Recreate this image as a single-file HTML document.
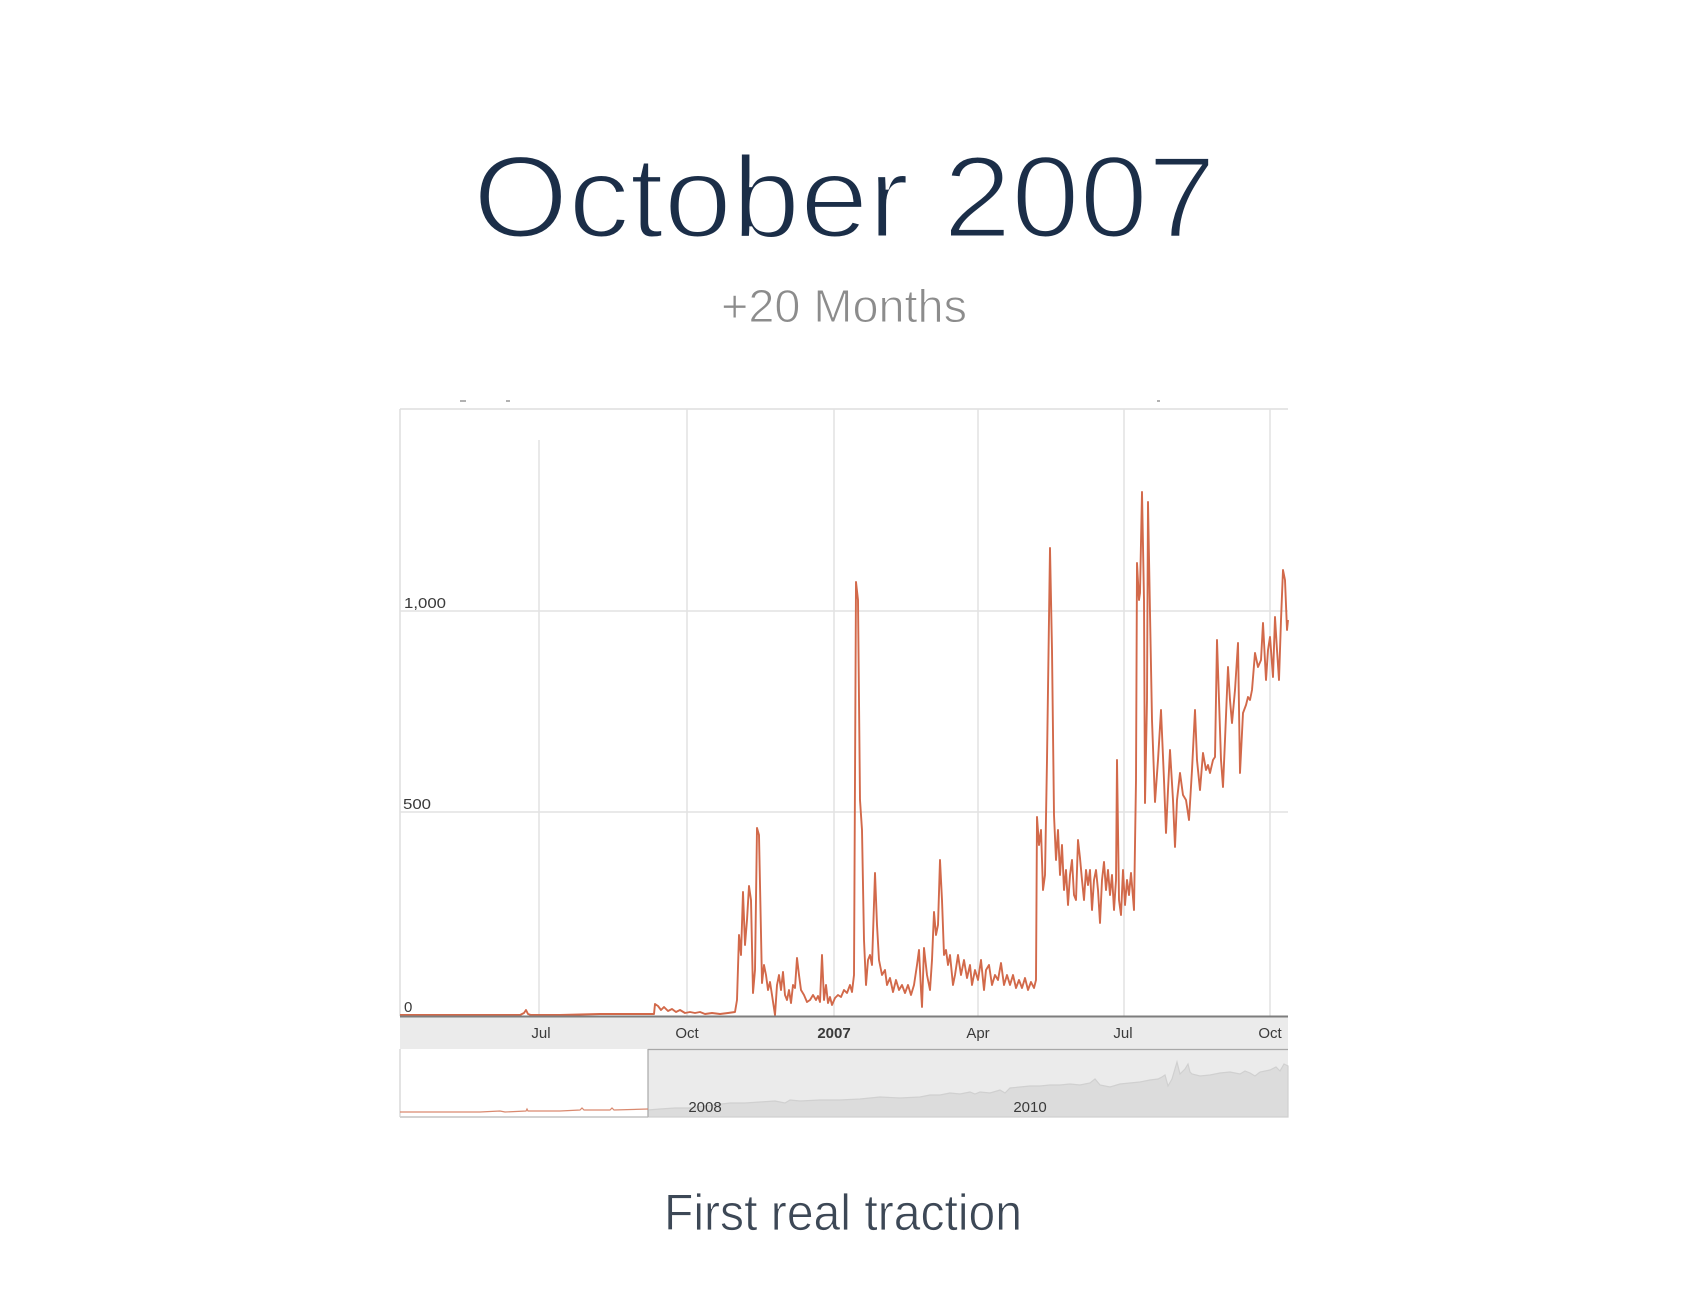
<!DOCTYPE html>
<html>
<head>
<meta charset="utf-8">
<style>
  html,body{margin:0;padding:0;background:#ffffff;}
  body{width:1684px;height:1290px;overflow:hidden;}
  svg{display:block;}
  .ax{font-family:"Liberation Sans",Arial,sans-serif;font-size:15px;fill:#3a3a3a;}
</style>
</head>
<body>
<svg width="1684" height="1290" viewBox="0 0 1684 1290" xmlns="http://www.w3.org/2000/svg">
  <rect x="0" y="0" width="1684" height="1290" fill="#ffffff"/>

  <!-- Title -->
  <text x="473" y="237" font-family="Liberation Sans, Arial, sans-serif" font-size="116" textLength="743" lengthAdjust="spacingAndGlyphs" fill="#1b2e48" stroke="#ffffff" stroke-width="3">October 2007</text>
  <!-- Subtitle -->
  <text x="721" y="322" font-family="Liberation Sans, Arial, sans-serif" font-size="46" textLength="246" lengthAdjust="spacingAndGlyphs" fill="#8c8c8c" stroke="#ffffff" stroke-width="1">+20 Months</text>

  <!-- tiny marks above chart -->
  <line x1="460" y1="401" x2="466" y2="401" stroke="#999" stroke-width="1.5"/>
  <line x1="506" y1="401" x2="510" y2="401" stroke="#999" stroke-width="1.5"/>
  <line x1="1157" y1="401" x2="1160" y2="401" stroke="#999" stroke-width="1.5"/>

  <!-- plot frame -->
  <line x1="400" y1="409" x2="1288" y2="409" stroke="#dedede" stroke-width="1.5"/>
  <line x1="400" y1="409" x2="400" y2="1016" stroke="#dedede" stroke-width="1.5"/>

  <!-- horizontal gridlines -->
  <line x1="400" y1="611" x2="1288" y2="611" stroke="#e2e2e2" stroke-width="1.5"/>
  <line x1="400" y1="812" x2="1288" y2="812" stroke="#e2e2e2" stroke-width="1.5"/>

  <!-- vertical gridlines -->
  <line x1="539" y1="440" x2="539" y2="1016" stroke="#e2e2e2" stroke-width="1.5"/>
  <line x1="687" y1="409" x2="687" y2="1016" stroke="#e2e2e2" stroke-width="1.5"/>
  <line x1="834" y1="409" x2="834" y2="1016" stroke="#e2e2e2" stroke-width="1.5"/>
  <line x1="978" y1="409" x2="978" y2="1016" stroke="#e2e2e2" stroke-width="1.5"/>
  <line x1="1124" y1="409" x2="1124" y2="1016" stroke="#e2e2e2" stroke-width="1.5"/>
  <line x1="1270" y1="409" x2="1270" y2="1016" stroke="#e2e2e2" stroke-width="1.5"/>

  <!-- y labels -->
  <text class="ax" x="404" y="608" textLength="42" lengthAdjust="spacingAndGlyphs">1,000</text>
  <text class="ax" x="403" y="809" textLength="28" lengthAdjust="spacingAndGlyphs">500</text>
  <text class="ax" x="404" y="1012">0</text>

  <!-- data line -->
  <polyline fill="none" stroke="#d2694a" stroke-width="1.9" stroke-linejoin="round" points="
400,1015 520,1015 524,1013 526,1010 528,1014 531,1015 560,1015 600,1014 654,1014 655,1004 658,1006 661,1010 664,1007 668,1011 672,1009 676,1012 680,1010 685,1013 690,1012 695,1013 700,1012 705,1014 712,1013 720,1014 728,1013 735,1012
737,1000 739,935 741,955 743,892 745,945 747,920 749,886 751,900 753,993 755,970 757,828 759,835 762,983 764,965 766,975 768,990 770,982 772,995 775,1015 777,985 779,975 781,990 783,972 785,995 787,1000 789,990 791,1003 793,985 795,988 797,958 799,975 801,990 804,995 807,1002 810,1000 813,995 816,1000 818,996 820,1002 822,955 824,1000 826,985 828,1003 830,997 832,1005 835,998 838,995 841,997 844,990 847,993 850,985 852,992 854,975 856,582 858,600 860,800 862,830 864,940 866,985 868,960 870,955 872,965 875,873 877,925 879,960 882,975 885,970 887,985 890,978 893,992 896,980 899,990 902,985 905,993 908,985 911,995 914,985 917,965 919,950 921,990 922,1007 924,948 927,975 930,990 932,960 934,912 936,935 938,925 940,860 942,900 944,955 946,950 948,965 950,955 953,985 955,975 958,955 961,975 964,960 967,978 970,965 972,985 975,970 978,980 981,960 984,990 986,970 989,965 992,985 995,975 998,980 1001,963 1004,985 1007,975 1010,985 1013,975 1016,988 1019,980 1022,988 1025,978 1028,990 1031,982 1034,988 1036,980
1037,817 1039,845 1041,830 1043,890 1045,875 1047,760 1050,548 1052,650 1054,815 1056,860 1058,830 1060,875 1062,845 1064,890 1066,870 1068,905 1070,875 1072,860 1074,895 1076,900 1078,840 1080,858 1082,880 1084,900 1086,870 1088,885 1090,870 1092,910 1094,880 1096,870 1098,890 1100,923 1102,880 1104,862 1106,890 1108,870 1110,895 1112,875 1114,910 1116,880 1117,760 1119,900 1121,915 1123,870 1125,905 1127,880 1129,895 1131,873 1134,910 1136,780 1137,563 1139,600 1140,593 1142,492 1144,600 1145,803 1147,700 1148,502 1150,613 1152,720 1155,802 1158,760 1161,710 1164,780 1166,833 1168,790 1170,750 1173,800 1175,847 1177,800 1180,773 1183,795 1186,800 1189,820 1192,770 1195,710 1197,760 1200,790 1203,753 1206,770 1208,765 1210,773 1213,760 1215,757 1217,640 1219,700 1221,760 1223,787 1225,740 1228,667 1230,700 1232,723 1235,690 1238,643 1240,773 1243,713 1246,705 1248,697 1250,700 1252,690 1255,653 1258,667 1261,660 1263,623 1266,680 1268,650 1270,637 1273,677 1275,617 1277,650 1279,680 1281,620 1283,570 1285,580 1287,630 1288,620"/>

  <!-- x axis band -->
  <rect x="400" y="1017" width="888" height="32" fill="#ebebeb"/>
  <line x1="400" y1="1016.5" x2="1288" y2="1016.5" stroke="#7d7d7d" stroke-width="2"/>
  <text class="ax" x="541" y="1038" text-anchor="middle">Jul</text>
  <text class="ax" x="687" y="1038" text-anchor="middle">Oct</text>
  <text class="ax" x="834" y="1038" text-anchor="middle" font-weight="bold" fill="#222">2007</text>
  <text class="ax" x="978" y="1038" text-anchor="middle">Apr</text>
  <text class="ax" x="1123" y="1038" text-anchor="middle">Jul</text>
  <text class="ax" x="1270" y="1038" text-anchor="middle">Oct</text>

  <!-- navigator -->
  <rect x="400" y="1049" width="248" height="68" fill="#ffffff"/>
  <rect x="648" y="1049" width="640" height="68" fill="#ebebeb"/>
  <polygon fill="#dcdcdc" stroke="#d0d0d0" stroke-width="1.2" points="648,1110 660,1109 675,1108 690,1108 705,1106 730,1103 745,1103 760,1102 775,1101 785,1103 790,1100 800,1101 820,1100 840,1100 860,1099 880,1097 900,1098 920,1097 930,1095 940,1095 950,1093 960,1094 970,1092 975,1094 980,1092 990,1093 1000,1090 1005,1093 1010,1088 1020,1087 1030,1086 1040,1086 1050,1085 1060,1085 1070,1084 1080,1085 1090,1083 1095,1079 1100,1085 1110,1087 1120,1084 1130,1083 1140,1082 1150,1080 1158,1079 1162,1077 1165,1075 1168,1086 1172,1079 1177,1062 1180,1074 1183,1071 1185,1069 1188,1064 1190,1072 1192,1074 1200,1076 1210,1075 1220,1073 1230,1072 1240,1074 1245,1071 1250,1073 1255,1076 1260,1072 1270,1070 1276,1067 1280,1071 1284,1064 1288,1066 1288,1117 648,1117"/>
  <line x1="648" y1="1049.5" x2="1288" y2="1049.5" stroke="#a8a8a8" stroke-width="1.2"/>
  <line x1="648" y1="1049" x2="648" y2="1117" stroke="#a8a8a8" stroke-width="1.2"/>
  <line x1="400" y1="1117" x2="648" y2="1117" stroke="#b8b8b8" stroke-width="1.2"/>
  <line x1="400" y1="1049" x2="400" y2="1117" stroke="#d0d0d0" stroke-width="1.2"/>
  <polyline fill="none" stroke="#d9896f" stroke-width="1.2" points="400,1112 480,1112 500,1111 505,1112 526,1111 527,1109 528,1111 560,1111 580,1110 582,1108 584,1110 610,1110 612,1108 614,1110 648,1109"/>
  <text class="ax" x="705" y="1112" text-anchor="middle">2008</text>
  <text class="ax" x="1030" y="1112" text-anchor="middle">2010</text>

  <!-- caption -->
  <text x="664" y="1230" font-family="Liberation Sans, Arial, sans-serif" font-size="51" textLength="358" lengthAdjust="spacingAndGlyphs" fill="#3d4856" stroke="#ffffff" stroke-width="0.8">First real traction</text>
</svg>
</body>
</html>
